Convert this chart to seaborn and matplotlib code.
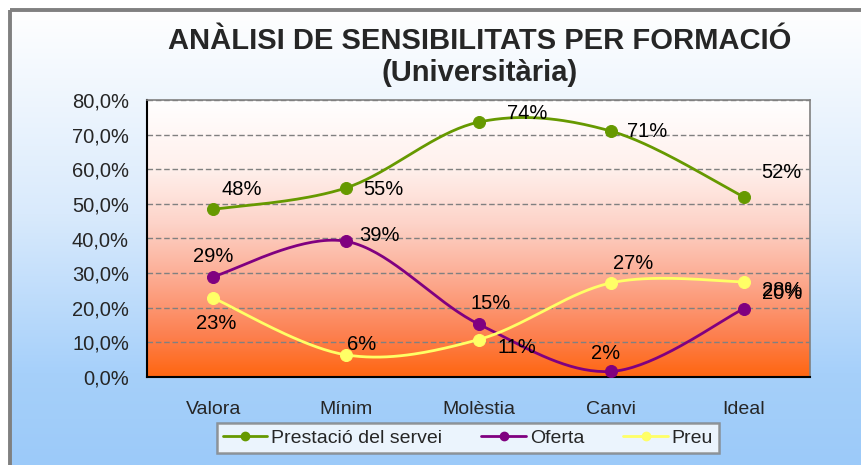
import numpy as np
import pandas as pd
import matplotlib
matplotlib.use("Agg")
import matplotlib.pyplot as plt
from matplotlib.colors import LinearSegmentedColormap
from matplotlib.patches import Rectangle
from matplotlib.lines import Line2D
import seaborn as sns

# Data
categories = ["Valora", "Mínim", "Molèstia", "Canvi", "Ideal"]
prestacio = [0.484, 0.546, 0.736, 0.710, 0.520]
oferta = [0.290, 0.392, 0.153, 0.016, 0.197]
preu = [0.228, 0.064, 0.108, 0.272, 0.275]
series_names = ["Prestació del servei", "Oferta", "Preu"]
series_values = [prestacio, oferta, preu]
series_colors = ["#669900", "#800080", "#ffff66"]

# label offsets in pixels (dx, dy) per point, placed as in the original
label_offsets = [
    [(28, 20), (37, -2), (49, 9), (36, 0), (38, 24)],
    [(0, 20), (34, 6), (12, 21), (-6, 18), (38, 15)],
    [(3, -25), (16, 10), (38, -8), (22, 19), (38, -9)],
]


def smooth(xs, ys, n=40):
    # Catmull-Rom style smoothing like Excel's "smoothed line"
    xs = np.asarray(xs, float)
    ys = np.asarray(ys, float)
    px = np.concatenate([[xs[0]], xs, [xs[-1]]])
    py = np.concatenate([[ys[0]], ys, [ys[-1]]])
    out_x, out_y = [], []
    for i in range(1, len(px) - 2):
        p0 = np.array([px[i], py[i]])
        p3 = np.array([px[i + 1], py[i + 1]])
        c1 = p0 + (np.array([px[i + 1], py[i + 1]]) - np.array([px[i - 1], py[i - 1]])) / 6
        c2 = p3 - (np.array([px[i + 2], py[i + 2]]) - np.array([px[i], py[i]])) / 6
        t = np.linspace(0, 1, n)[:, None]
        pts = ((1 - t) ** 3) * p0 + 3 * ((1 - t) ** 2) * t * c1 + 3 * (1 - t) * t ** 2 * c2 + t ** 3 * p3
        out_x.extend(pts[:, 0])
        out_y.extend(pts[:, 1])
    return out_x, out_y


sns.set_style("white")
plt.rcParams["font.family"] = ["Liberation Sans", "DejaVu Sans"]

fig = plt.figure(figsize=(8.61, 4.65), dpi=100)
fig.patch.set_facecolor("white")

# figure background gradient (white -> light blue) inside grey frame
bg = fig.add_axes([0, 0, 1, 1], zorder=-10)
bg.set_axis_off()
bg.set_xlim(0, 861)
bg.set_ylim(465, 0)
blue_cmap = LinearSegmentedColormap.from_list(
    "bluebg", [(0, "#ffffff"), (0.45, "#d9eafc"), (0.8, "#a6d0fa"), (1, "#9ccaf9")])
grad = np.linspace(0, 1, 256)[:, None]
bg.imshow(grad, cmap=blue_cmap, aspect="auto", extent=[10, 861, 465, 10], zorder=0)
bg.add_patch(Rectangle((10, 10), 870, 470, fill=False, edgecolor="#808080", lw=2.8, zorder=1))

ax = fig.add_axes([147 / 861, 1 - 377 / 465, 663 / 861, 277 / 465])

# plot area gradient (white -> pink -> orange)
orange_cmap = LinearSegmentedColormap.from_list(
    "orangebg", [(0, "#ffffff"), (0.25, "#fff0ec"), (0.45, "#fdd3c8"),
                 (0.65, "#fcaa90"), (0.85, "#fd8050"), (1, "#ff6610")])
ax.imshow(grad, cmap=orange_cmap, aspect="auto", extent=[-0.5, 4.5, 0, 0.8], zorder=0)

for i, (name, vals, col) in enumerate(zip(series_names, series_values, series_colors)):
    sx, sy = smooth(range(len(categories)), vals)
    sns.lineplot(x=sx, y=sy, color=col, lw=2.0, sort=False, estimator=None, ax=ax, zorder=3)
    sns.scatterplot(x=range(len(categories)), y=vals, color=col, s=75, edgecolor=col, ax=ax, zorder=4)
    for j, v in enumerate(vals):
        dx, dy = label_offsets[i][j]
        ax.annotate(f"{v * 100:.0f}%", (j, v), xytext=(dx * 0.72, dy * 0.72), textcoords="offset points",
                    ha="center", va="center", fontsize=14.5, color="black", zorder=5)

ax.set_xlim(-0.5, 4.5)
ax.set_ylim(0, 0.8)
ax.set_yticks(np.arange(0, 0.81, 0.1))
ax.set_yticklabels([f"{t * 100:.1f}%".replace(".", ",") for t in np.arange(0, 0.81, 0.1)], fontsize=14.5)
ax.set_xticks(range(len(categories)))
ax.set_xticklabels(categories, fontsize=14)
ax.tick_params(axis="x", length=0, pad=17)
ax.set_xticks(np.arange(-0.5, 4.6, 1), minor=True)
ax.tick_params(axis="x", which="minor", length=5, width=1.2, color="black", direction="out")
ax.tick_params(axis="y", length=5, width=1.2, color="black", direction="out", pad=8)
for y in np.arange(0.1, 0.81, 0.1):
    ax.axhline(y, color="#808080", lw=1.0, ls=(0, (4, 2)), zorder=1)
ax.spines["left"].set_color("black")
ax.spines["bottom"].set_color("black")
ax.spines["left"].set_linewidth(1.5)
ax.spines["bottom"].set_linewidth(1.5)
ax.spines["top"].set_color("#808080")
ax.spines["right"].set_color("#808080")
ax.spines["top"].set_linewidth(1.2)
ax.spines["right"].set_linewidth(1.2)
ax.set_xlabel("")
ax.set_ylabel("")

fig.text(480 / 861, 1 - 41 / 465, "ANÀLISI DE SENSIBILITATS PER FORMACIÓ", ha="center", va="center",
         fontsize=21, fontweight="bold")
fig.text(480 / 861, 1 - 73 / 465, "(Universitària)", ha="center", va="center",
         fontsize=21, fontweight="bold")

handles = [Line2D([0], [0], color=c, lw=2.0, marker="o", markersize=6) for c in series_colors]
leg = fig.legend(handles, series_names, loc="center", bbox_to_anchor=(468 / 861, 1 - 438 / 465),
                 ncol=3, fontsize=14, frameon=True, fancybox=False, handlelength=2.3,
                 handletextpad=0.2, columnspacing=2.0, borderpad=0.3, borderaxespad=0.3)
leg.get_frame().set_edgecolor("#808080")
leg.get_frame().set_linewidth(1.8)
leg.get_frame().set_facecolor("white")

fig.savefig("out.png", dpi=100)
